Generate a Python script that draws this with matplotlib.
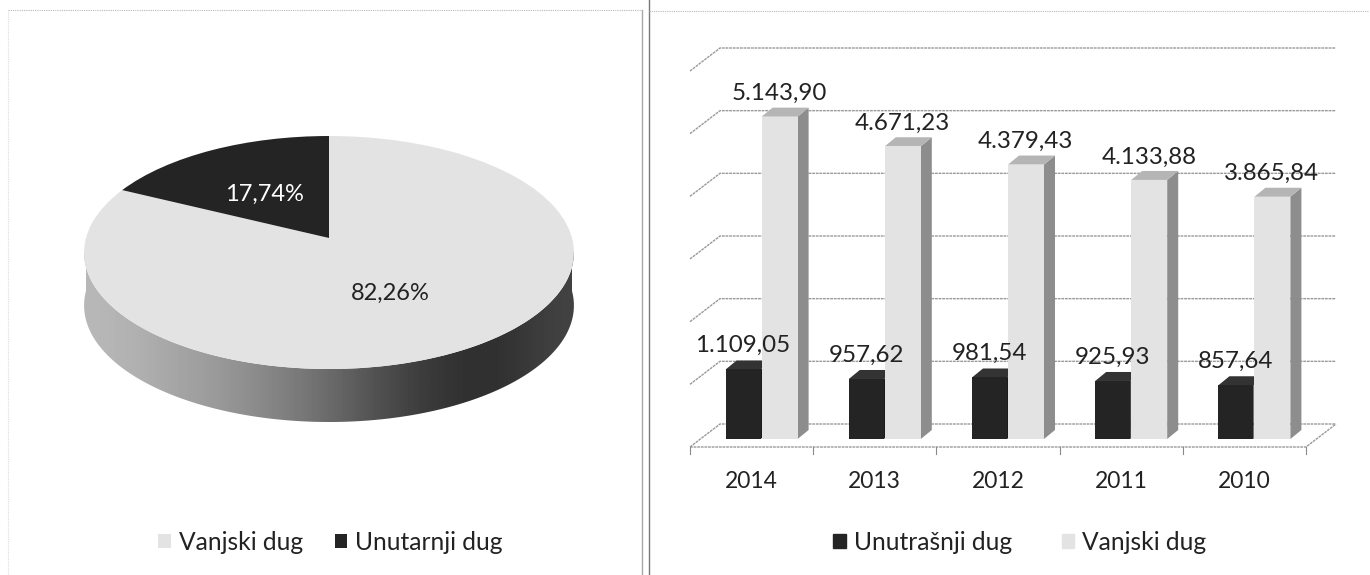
import numpy as np
import matplotlib
matplotlib.use('Agg')
import matplotlib.pyplot as plt
from matplotlib.patches import Polygon, Rectangle
from matplotlib.transforms import Transform

plt.rcParams['font.family'] = ['Lato', 'DejaVu Sans']

pie_labels = ['Vanjski dug', 'Unutarnji dug']
pie_values = [82.26, 17.74]
pie_text = ['82,26%', '17,74%']

years = ['2014', '2013', '2012', '2011', '2010']
unutarnji = [1109.05, 957.62, 981.54, 925.93, 857.64]
vanjski = [5143.90, 4671.23, 4379.43, 4133.88, 3865.84]
unutarnji_text = ['1.109,05', '957,62', '981,54', '925,93', '857,64']
vanjski_text = ['5.143,90', '4.671,23', '4.379,43', '4.133,88', '3.865,84']

W, H = 1370, 575
DARK = '#242424'
LIGHT = '#e3e3e3'
INK = '#222222'
GRID = '#9a9a9a'


class Tilt(Transform):
    # unit circle -> tilted disc in pixels, centre sits above the ellipse middle
    input_dims = output_dims = 2

    def transform_non_affine(self, values):
        values = np.asarray(values, dtype=float)
        u, v = values[:, 0], values[:, 1]
        d = 1 + 0.1245 * v
        return np.column_stack((243 * u / d, (116.5 * v + 14.5) / d))


fig = plt.figure(figsize=(W / 100, H / 100), dpi=100)


def px_axes(x0, y_top, x1, y_bot):
    return fig.add_axes([x0 / W, 1 - y_bot / H, (x1 - x0) / W, (y_bot - y_top) / H])


# frames of the two panels
back = fig.add_axes([0, 0, 1, 1], zorder=0)
back.set_xlim(0, W)
back.set_ylim(H, 0)
back.axis('off')
back.plot([8.5, 8.5], [575, 10], color='#dddddd', lw=0.8, ls=(0, (1, 1)))
back.plot([8.5, 642], [10, 10], color='#b8b8b8', lw=0.8, ls=(0, (1, 1)))
back.plot([642, 642], [10, 575], color='#a8a8a8', lw=1.0)
back.plot([649, 649], [0, 575], color='#777777', lw=1.0)
back.plot([649, 1369], [10.5, 10.5], color='#b8b8b8', lw=0.8, ls=(0, (1, 1)))

# pie, y axis in pixels around the middle of the top ellipse
ax1 = px_axes(69, 110, 589, 440)
tilt = Tilt()

t = np.linspace(np.pi, 2 * np.pi, 200)
rim = tilt.transform(np.column_stack((np.cos(t), np.sin(t))))
depth = 53
outline = np.vstack((rim - [0, depth], rim[::-1]))
side = ax1.imshow(np.array([[0.72, 0.66, 0.60, 0.52, 0.42, 0.30, 0.21, 0.17, 0.26]]),
                  cmap='gray', vmin=0, vmax=1, aspect='auto', interpolation='bicubic',
                  extent=(-246, 246, -187.5, 0), zorder=1)
clip = Polygon(outline, closed=True, transform=ax1.transData, fc='none', ec='none')
ax1.add_patch(clip)
side.set_clip_path(clip)

wedges, _ = ax1.pie(pie_values, colors=[LIGHT, DARK], startangle=90, counterclock=False,
                    frame=True)
for w in wedges:
    w.set_transform(tilt + ax1.transData)
    w.set_zorder(2)
ax1.set_aspect('auto')
ax1.set_xlim(-260, 260)
ax1.set_ylim(-187.5, 142.5)
ax1.axis('off')
ax1.text(61, -40.5, pie_text[0], color=INK, fontsize=17, ha='center', va='center', zorder=3)
ax1.text(-65, 58, pie_text[1], color='white', fontsize=17, ha='center', va='center', zorder=3)

fig.legend(wedges, pie_labels, loc='center', bbox_to_anchor=(330.5 / W, 1 - 542 / H), ncols=2,
           frameon=False, fontsize=17.7, labelcolor=INK, handlelength=0.5, handleheight=0.5,
           handletextpad=0.33, columnspacing=1.3, borderpad=0)

# bars, y=0 is the front base of the bars
ax2 = px_axes(690, 63, 1306, 439)
ax2.set_xlim(-0.5, 4.5)
ax2.set_ylim(0, 6000)
ax2.patch.set_alpha(0)
for s in ax2.spines.values():
    s.set_visible(False)
ax2.set_yticks([])
ax2.set_xticks([])
ppx = 5.0 / 616
ppy = 6000 / 376.0
x = np.arange(len(years))

# walls and floor: 30 px deep, floor front 8 px below the bar base
f_x, f_y = -0.5, -8 * ppy
wall_dx, wall_dy = 30 * ppx, 23 * ppy
for lev in range(0, 7000, 1000):
    y0 = lev + f_y
    ax2.plot([f_x, f_x + wall_dx, 4.5 + wall_dx], [y0, y0 + wall_dy, y0 + wall_dy],
             color=GRID, lw=1.0, ls=(0, (2, 0.6)), clip_on=False, zorder=1)
ax2.plot([-0.5, 4.5, 4.5 + wall_dx], [f_y, f_y, f_y + wall_dy], color=GRID, lw=1.0,
         ls=(0, (2, 0.6)), clip_on=False, zorder=1)
for pos in np.arange(-0.5, 5):
    ax2.plot([pos, pos], [f_y, f_y - 7 * ppy], color='#888888', lw=0.8, clip_on=False, zorder=1)


def bar3d(left, width, value, side_c, top_c):
    dx, dy = 11 * ppx, 9 * ppy
    right = left + width
    ax2.add_patch(Polygon([(right, 0), (right + dx, dy), (right + dx, value + dy), (right, value)],
                          fc=side_c, ec='none', zorder=2))
    ax2.add_patch(Polygon([(left, value), (right, value), (right + dx, value + dy), (left + dx, value + dy)],
                          fc=top_c, ec='none', zorder=2))


bw = 35 * ppx
off_d = -26 * ppx
off_l = 10 * ppx
ax2.bar(x + off_d, unutarnji, bw, align='edge', color=DARK, zorder=3)
ax2.bar(x + off_l, vanjski, bw + 1 * ppx, align='edge', color=LIGHT, zorder=3)
for i in x:
    bar3d(x[i] + off_d, bw, unutarnji[i], '#1a1a1a', '#333333')
    bar3d(x[i] + off_l, bw + 1 * ppx, vanjski[i], '#8d8d8d', '#b5b5b5')

for i in x:
    ax2.annotate(unutarnji_text[i], (x[i] + off_d + bw / 2, unutarnji[i]), xytext=(0, 24),
                 textcoords='offset pixels', ha='center', va='center', fontsize=17.4,
                 color=INK, zorder=5)
    ax2.annotate(vanjski_text[i], (x[i] + off_l + bw / 2, vanjski[i]), xytext=(0, 23),
                 textcoords='offset pixels', ha='center', va='center', fontsize=17.4,
                 color=INK, zorder=5)
    ax2.annotate(years[i], (x[i], 0), xytext=(0, -42), textcoords='offset pixels',
                 ha='center', va='center', fontsize=16.5, color=INK, annotation_clip=False)

h = [Rectangle((0, 0), 1, 1, color=DARK), Rectangle((0, 0), 1, 1, color=LIGHT)]
fig.legend(h, ['Unutrašnji dug', 'Vanjski dug'], loc='center',
           bbox_to_anchor=(1020 / W, 1 - 542 / H), ncols=2, frameon=False, fontsize=17.7,
           labelcolor=INK, handlelength=0.5, handleheight=0.5, handletextpad=0.35,
           columnspacing=2.0, borderpad=0)

fig.savefig('out.png', dpi=100)
